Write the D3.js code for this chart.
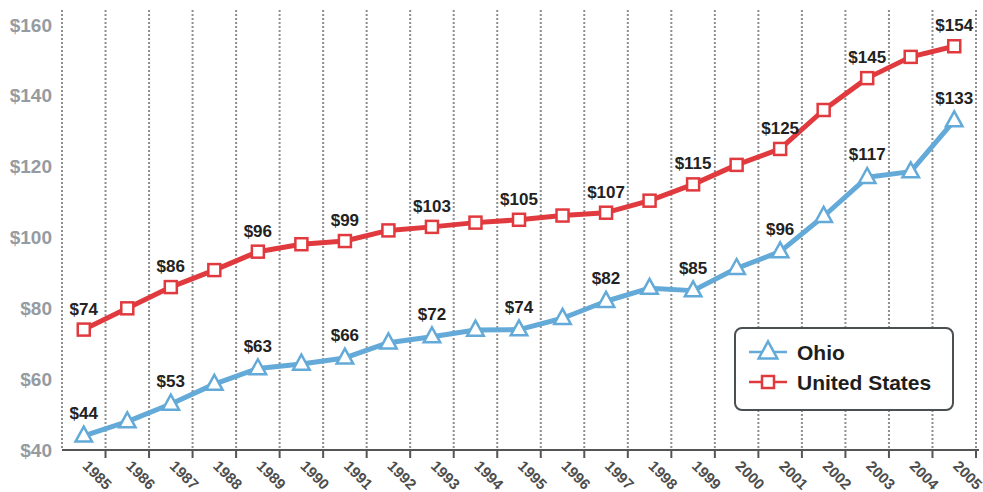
<!DOCTYPE html>
<html>
<head>
<meta charset="utf-8">
<script src="https://cdn.jsdelivr.net/npm/d3@7"></script>
<style>
  body { margin: 0; background: #fff; }
  svg { font-family: "Liberation Sans", Arial, sans-serif; }
</style>
</head>
<body>
<div id="chart"></div>
<script>
// data
var years = [1985, 1986, 1987, 1988, 1989, 1990, 1991, 1992, 1993, 1994, 1995,
             1996, 1997, 1998, 1999, 2000, 2001, 2002, 2003, 2004, 2005];
var ohio = [44, 48, 53, 58.6, 63, 64.3, 66, 70.3, 72, 73.9, 74,
            77.2, 82, 85.7, 85, 91.3, 96, 106, 117, 118.6, 133];
var usa = [74, 80, 86, 90.8, 96, 98.1, 99, 102, 103, 104.2, 105,
           106.2, 107, 110.4, 115, 120.5, 125, 136, 145, 151, 154];
// which points carry a value label
var labelYears = [1985, 1987, 1989, 1991, 1993, 1995, 1997, 1999, 2001, 2003, 2005];
var yTicks = [40, 60, 80, 100, 120, 140, 160];

var W = 983, H = 492;
var blue = "#63aad8", red = "#e03a3f";

var svg = d3.select("#chart").append("svg")
    .attr("width", W)
    .attr("height", H);

var x = d3.scaleBand().domain(years).range([62, 976]).padding(0);
var y = d3.scaleLinear().domain([40, 160]).range([450, 25]);

// boundaries between years -> dotted grid lines
var bounds = years.map(function (d) { return x(d); });
bounds.push(x.range()[1]);

svg.selectAll("line.grid")
    .data(bounds)
    .enter().append("line")
    .attr("class", "grid")
    .attr("x1", function (d) { return d; })
    .attr("x2", function (d) { return d; })
    .attr("y1", 10)
    .attr("y2", 450)
    .attr("stroke", "#8e8e8e")
    .attr("stroke-width", 2)
    .attr("stroke-dasharray", "2,2");

// y axis labels
var yAxis = svg.append("g")
    .attr("transform", "translate(62,0)")
    .call(d3.axisLeft(y).tickValues(yTicks).tickSize(0).tickPadding(10)
        .tickFormat(function (d) { return "$" + d; }));
yAxis.select(".domain").remove();
yAxis.selectAll("text")
    .attr("font-family", "Liberation Sans, Arial, sans-serif")
    .attr("font-size", 19)
    .attr("font-weight", "bold")
    .attr("fill", "#959ba1");

// x axis line + ticks
svg.append("line")
    .attr("x1", 62).attr("x2", 979)
    .attr("y1", 450).attr("y2", 450)
    .attr("stroke", "#555")
    .attr("stroke-width", 2);

svg.selectAll("line.tick")
    .data(bounds.slice(1))
    .enter().append("line")
    .attr("class", "tick")
    .attr("x1", function (d) { return d; })
    .attr("x2", function (d) { return d; })
    .attr("y1", 450).attr("y2", 458)
    .attr("stroke", "#555")
    .attr("stroke-width", 2);

svg.selectAll("text.year")
    .data(years)
    .enter().append("text")
    .attr("class", "year")
    .attr("transform", function (d) {
        return "translate(" + (x(d) + x.bandwidth() / 2 - 2) + ",467) rotate(45)";
    })
    .attr("font-size", 15)
    .attr("font-weight", "bold")
    .attr("fill", "#4d4d4d")
    .text(function (d) { return d; });

function triPath(s) {
    return "M0," + (-s * 0.62) + "L" + (s * 0.55) + "," + (s * 0.38) + "L" + (-s * 0.55) + "," + (s * 0.38) + "Z";
}

function drawSeries(vals, color, kind) {
    var pts = years.map(function (d, i) { return { year: d, v: vals[i] }; });
    var line = d3.line()
        .x(function (d) { return x(d.year) + x.bandwidth() / 2; })
        .y(function (d) { return y(d.v); });

    svg.append("path")
        .datum(pts)
        .attr("d", line)
        .attr("fill", "none")
        .attr("stroke", color)
        .attr("stroke-width", 5)
        .attr("stroke-linejoin", "round");

    var g = svg.selectAll(null)
        .data(pts)
        .enter().append("g")
        .attr("transform", function (d) {
            return "translate(" + (x(d.year) + x.bandwidth() / 2) + "," + y(d.v) + ")";
        });

    if (kind == "tri") {
        g.append("path")
            .attr("d", triPath(15))
            .attr("fill", "#fff")
            .attr("stroke", color)
            .attr("stroke-width", 2.5);
    } else {
        g.append("rect")
            .attr("x", -6).attr("y", -6)
            .attr("width", 12).attr("height", 12)
            .attr("fill", "#fff")
            .attr("stroke", color)
            .attr("stroke-width", 2.5);
    }

    svg.selectAll(null)
        .data(pts.filter(function (d) { return labelYears.indexOf(d.year) >= 0; }))
        .enter().append("text")
        .attr("x", function (d) { return x(d.year) + x.bandwidth() / 2; })
        .attr("y", function (d) { return y(d.v) - (kind == "tri" ? 17 : 15); })
        .attr("text-anchor", "middle")
        .attr("font-size", 17)
        .attr("font-weight", "bold")
        .attr("fill", "#222")
        .text(function (d) { return "$" + Math.round(d.v); });
}

drawSeries(usa, red, "sq");
drawSeries(ohio, blue, "tri");

// legend
var leg = svg.append("g").attr("transform", "translate(735,328)");
leg.append("rect")
    .attr("width", 218).attr("height", 82)
    .attr("rx", 7)
    .attr("fill", "#fff")
    .attr("stroke", "#4a4f52")
    .attr("stroke-width", 2);

var legItems = [
    { name: "Ohio", color: blue, kind: "tri", cy: 24 },
    { name: "United States", color: red, kind: "sq", cy: 54 }
];
legItems.forEach(function (it) {
    leg.append("line")
        .attr("x1", 14).attr("x2", 52)
        .attr("y1", it.cy).attr("y2", it.cy)
        .attr("stroke", it.color)
        .attr("stroke-width", 2.5);
    if (it.kind == "tri") {
        leg.append("path")
            .attr("transform", "translate(33," + it.cy + ")")
            .attr("d", triPath(17))
            .attr("fill", "#fff")
            .attr("stroke", it.color)
            .attr("stroke-width", 2.5);
    } else {
        leg.append("rect")
            .attr("x", 27).attr("y", it.cy - 6)
            .attr("width", 12).attr("height", 12)
            .attr("fill", "#fff")
            .attr("stroke", it.color)
            .attr("stroke-width", 2.5);
    }
    leg.append("text")
        .attr("x", 62).attr("y", it.cy)
        .attr("dy", "0.36em")
        .attr("font-size", 21)
        .attr("font-weight", "bold")
        .attr("fill", "#1e1e1e")
        .text(it.name);
});
</script>
</body>
</html>
